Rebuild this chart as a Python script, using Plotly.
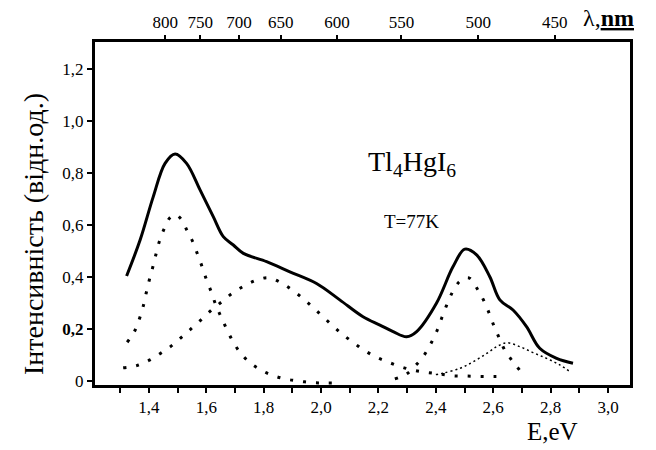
import plotly.graph_objects as go

# ---- data (energy in eV, intensity in rel. units) ----
solid_E = [1.322, 1.369, 1.415, 1.456, 1.491, 1.531, 1.578, 1.624, 1.659, 1.694, 1.729, 1.810,
           1.891, 1.984, 2.065, 2.146, 2.205, 2.251, 2.298, 2.333, 2.402, 2.460, 2.501, 2.542,
           2.588, 2.623, 2.669, 2.716, 2.762, 2.821, 2.878]
solid_I = [0.404, 0.542, 0.709, 0.837, 0.873, 0.837, 0.735, 0.632, 0.555, 0.523, 0.491, 0.459,
           0.420, 0.375, 0.312, 0.247, 0.215, 0.190, 0.170, 0.190, 0.299, 0.440, 0.507, 0.485,
           0.401, 0.312, 0.273, 0.209, 0.126, 0.087, 0.068]

peak1_E = [1.324, 1.349, 1.366, 1.380, 1.390, 1.401, 1.413, 1.424, 1.436, 1.452, 1.473, 1.492,
           1.511, 1.533, 1.554, 1.570, 1.586, 1.601, 1.618, 1.633, 1.651, 1.671, 1.692, 1.716,
           1.748, 1.786, 1.828, 1.874, 1.920, 1.967, 2.013, 2.060]
peak1_I = [0.149, 0.190, 0.237, 0.288, 0.337, 0.388, 0.437, 0.486, 0.536, 0.583, 0.628, 0.640,
           0.624, 0.578, 0.532, 0.485, 0.437, 0.388, 0.340, 0.292, 0.247, 0.199, 0.153, 0.112,
           0.074, 0.045, 0.023, 0.008, 0.000, -0.006, -0.008, -0.008]

peak2_E = [1.310, 1.357, 1.401, 1.441, 1.479, 1.514, 1.549, 1.584, 1.618, 1.654, 1.690, 1.731,
           1.772, 1.817, 1.860, 1.899, 1.936, 1.969, 2.004, 2.039, 2.074, 2.111, 2.149, 2.190,
           2.231, 2.277, 2.321, 2.368, 2.414, 2.460, 2.507, 2.553, 2.600, 2.646]
peak2_I = [0.051, 0.059, 0.080, 0.107, 0.136, 0.169, 0.203, 0.238, 0.273, 0.305, 0.337, 0.365,
           0.387, 0.397, 0.378, 0.350, 0.318, 0.286, 0.250, 0.214, 0.180, 0.149, 0.119, 0.093,
           0.074, 0.055, 0.042, 0.033, 0.027, 0.020, 0.019, 0.017, 0.017, 0.017]

peak3_E = [2.257, 2.298, 2.333, 2.362, 2.385, 2.405, 2.421, 2.437, 2.457, 2.480, 2.500, 2.518,
           2.545, 2.567, 2.586, 2.602, 2.620, 2.640, 2.666, 2.695]
peak3_I = [0.008, 0.027, 0.064, 0.104, 0.149, 0.196, 0.244, 0.290, 0.340, 0.380, 0.395, 0.395,
           0.353, 0.309, 0.260, 0.213, 0.167, 0.119, 0.078, 0.038]

peak4_E = [2.400, 2.425, 2.484, 2.530, 2.577, 2.612, 2.646, 2.693, 2.739, 2.786, 2.832, 2.867]
peak4_I = [0.025, 0.030, 0.049, 0.074, 0.106, 0.132, 0.147, 0.132, 0.109, 0.087, 0.062, 0.036]

x_tickvals = [1.4, 1.6, 1.8, 2.0, 2.2, 2.4, 2.6, 2.8, 3.0]
x_ticktext = ["1,4", "1,6", "1,8", "2,0", "2,2", "2,4", "2,6", "2,8", "3,0"]
y_tickvals = [0, 0.2, 0.4, 0.6, 0.8, 1.0, 1.2]
y_ticktext = ["0", "<b>0,2</b>", "0,4", "0,6", "0,8", "1,0", "1,2"]
top_ticktext = ["800", "750", "700", "650", "600", "550", "500", "450"]
top_tickvals = [1.457, 1.579, 1.714, 1.859, 2.055, 2.280, 2.548, 2.814]

FONT = "Liberation Serif, Times New Roman, serif"
XR = [1.2118, 3.0767]
YR = [-0.0154, 1.3038]

fig = go.Figure()
dot = dict(color="black", width=3, dash="3px,10px")
fig.add_trace(go.Scatter(x=peak1_E, y=peak1_I, mode="lines", line=dot, line_shape="spline"))
fig.add_trace(go.Scatter(x=peak2_E, y=peak2_I, mode="lines", line=dot, line_shape="spline"))
fig.add_trace(go.Scatter(x=peak3_E, y=peak3_I, mode="lines", line=dot, line_shape="spline"))
fig.add_trace(go.Scatter(x=peak4_E, y=peak4_I, mode="lines",
                         line=dict(color="black", width=1.5, dash="2px,3px"), line_shape="spline"))
fig.add_trace(go.Scatter(x=solid_E, y=solid_I, mode="lines",
                         line=dict(color="black", width=3), line_shape="spline"))
# invisible trace to anchor top wavelength axis
fig.add_trace(go.Scatter(x=XR, y=[None, None], xaxis="x2", mode="lines", showlegend=False,
                         hoverinfo="skip"))

fig.update_layout(
    width=656, height=450,
    margin=dict(l=95, r=26, t=42, b=65),
    paper_bgcolor="white", plot_bgcolor="white",
    showlegend=False,
    font=dict(family=FONT, color="black", size=17),
    xaxis=dict(range=XR, tickvals=x_tickvals, ticktext=x_ticktext, ticks="outside",
               ticklen=5, tickwidth=1.5, tickcolor="black", showgrid=False, zeroline=False,
               showline=True, linewidth=3, linecolor="black", mirror=True,
               tickfont=dict(family=FONT, size=17, color="black"),
               minor=dict(tickvals=[1.3, 1.5, 1.7, 1.9, 2.1, 2.3, 2.5, 2.7, 2.9], ticks="outside",
                          ticklen=5, tickwidth=1.5, tickcolor="black")),
    xaxis2=dict(range=XR, overlaying="x", side="top", tickvals=top_tickvals,
                ticktext=top_ticktext, ticks="outside", ticklen=6, tickwidth=1.5,
                tickcolor="black", showgrid=False, zeroline=False, showline=False,
                tickfont=dict(family=FONT, size=17, color="black")),
    yaxis=dict(range=YR, tickvals=y_tickvals, ticktext=y_ticktext, ticks="outside",
               ticklen=5, tickwidth=1.5, tickcolor="black", showgrid=False, zeroline=False,
               showline=True, linewidth=3, linecolor="black", mirror=True,
               tickfont=dict(family=FONT, size=17, color="black")),
    annotations=[
        dict(text="Tl<sub>4</sub>HgI<sub>6</sub>", x=2.316, y=0.838, xref="x", yref="y",
             xanchor="center", yanchor="middle",
             showarrow=False, font=dict(family=FONT, size=28)),
        dict(text="T=77K", x=2.316, y=0.612, xref="x", yref="y",
             xanchor="center", yanchor="middle",
             showarrow=False, font=dict(family=FONT, size=19)),
        dict(text="E,eV", x=0.856, y=-0.137, xref="paper", yref="paper",
             xanchor="center", yanchor="middle",
             showarrow=False, font=dict(family=FONT, size=25)),
        dict(text="λ,<b><u>nm</u></b>", x=0.959, y=1.07, xref="paper", yref="paper",
             xanchor="center", yanchor="middle",
             showarrow=False, font=dict(family=FONT, size=24)),
        dict(text="Інтенсивність (відн.од.)", x=-0.116, y=0.44, xref="paper", yref="paper",
             xanchor="center", yanchor="middle",
             textangle=-90, showarrow=False, font=dict(family=FONT, size=28)),
    ],
)

fig.write_html("out.html")
